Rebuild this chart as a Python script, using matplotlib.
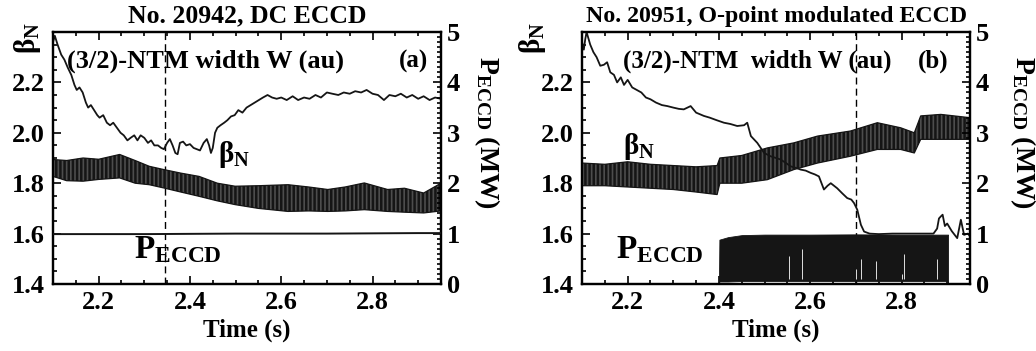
import matplotlib
matplotlib.use("Agg")
import matplotlib.pyplot as plt
from matplotlib.ticker import MultipleLocator

plt.rcParams["font.family"] = ["Liberation Serif", "DejaVu Serif"]
plt.rcParams["font.weight"] = "bold"
plt.rcParams["mathtext.fontset"] = "custom"
plt.rcParams["mathtext.rm"] = "Liberation Serif"
plt.rcParams["mathtext.bf"] = "Liberation Serif:bold"
plt.rcParams["mathtext.it"] = "Liberation Serif:italic"
plt.rcParams["hatch.linewidth"] = 1.8

# ---------------- shot 20942, DC ECCD ----------------
w_a_t = [2.100, 2.104, 2.110, 2.118, 2.125, 2.132, 2.140, 2.147, 2.152, 2.158,
         2.165, 2.172, 2.177, 2.183, 2.190, 2.197, 2.202, 2.210, 2.218, 2.225,
         2.232, 2.240, 2.248, 2.255, 2.263, 2.270, 2.278, 2.285, 2.292, 2.300,
         2.308, 2.315, 2.322, 2.330, 2.337, 2.343, 2.350, 2.356, 2.362, 2.368,
         2.373, 2.378, 2.385, 2.392, 2.400, 2.408, 2.415, 2.422, 2.430, 2.437,
         2.442, 2.446, 2.450, 2.455, 2.460, 2.467, 2.475, 2.482, 2.490, 2.498,
         2.506, 2.515, 2.524, 2.533, 2.542, 2.551, 2.560, 2.570, 2.580, 2.590,
         2.600, 2.612, 2.625, 2.637, 2.650, 2.662, 2.675, 2.687, 2.700, 2.712,
         2.725, 2.737, 2.750, 2.762, 2.775, 2.787, 2.800, 2.812, 2.825, 2.837,
         2.850, 2.862, 2.875, 2.887, 2.900, 2.912, 2.925, 2.937, 2.950]
w_a = [2.36, 2.385, 2.35, 2.31, 2.29, 2.26, 2.23, 2.19, 2.17, 2.18,
       2.16, 2.12, 2.10, 2.11, 2.09, 2.07, 2.06, 2.07, 2.04, 2.03,
       2.04, 2.02, 2.00, 1.99, 1.97, 1.98, 1.99, 1.97, 1.99, 1.98,
       1.96, 1.97, 1.95, 1.95, 1.94, 1.935, 1.96, 1.975, 1.95, 1.92,
       1.915, 1.96, 1.965, 1.95, 1.955, 1.94, 1.935, 1.93, 1.96, 1.975,
       1.95, 1.92, 1.94, 2.00, 2.02, 2.03, 2.04, 2.05, 2.065, 2.07,
       2.09, 2.08, 2.10, 2.11, 2.12, 2.13, 2.14, 2.15, 2.14, 2.135,
       2.14, 2.13, 2.145, 2.13, 2.14, 2.135, 2.15, 2.14, 2.16, 2.155,
       2.15, 2.16, 2.155, 2.165, 2.16, 2.17, 2.155, 2.15, 2.13, 2.15,
       2.145, 2.155, 2.14, 2.15, 2.135, 2.145, 2.13, 2.14, 2.135]

beta_a_t = [2.10, 2.13, 2.166, 2.20, 2.246, 2.28, 2.311, 2.343, 2.38, 2.42, 2.46,
            2.499, 2.55, 2.615, 2.66, 2.702, 2.74, 2.782, 2.833, 2.87, 2.912, 2.95]
beta_a_hi = [1.894, 1.89, 1.90, 1.895, 1.914, 1.89, 1.867, 1.854, 1.84, 1.827, 1.80,
             1.788, 1.79, 1.794, 1.785, 1.775, 1.785, 1.801, 1.775, 1.78, 1.761, 1.80]
beta_a_lo = [1.827, 1.81, 1.808, 1.815, 1.821, 1.80, 1.794, 1.781, 1.765, 1.748, 1.73,
             1.715, 1.70, 1.688, 1.69, 1.688, 1.69, 1.695, 1.688, 1.685, 1.682, 1.69]

p_a_t = [2.10, 2.20, 2.30, 2.40, 2.50, 2.60, 2.70, 2.80, 2.90, 2.95]
p_a = [0.99, 0.99, 0.99, 0.995, 1.0, 1.0, 1.0, 1.005, 1.01, 1.01]

# ---------------- shot 20951, O-point modulated ECCD ----------------
w_b_t = [2.100, 2.104, 2.107, 2.110, 2.118, 2.125, 2.132, 2.140, 2.148, 2.155,
         2.162, 2.170, 2.177, 2.185, 2.192, 2.200, 2.210, 2.220, 2.230, 2.240,
         2.250, 2.262, 2.275, 2.287, 2.300, 2.312, 2.323, 2.338, 2.350, 2.367,
         2.380, 2.395, 2.411, 2.425, 2.440, 2.455, 2.462, 2.470, 2.484, 2.499,
         2.513, 2.525, 2.535, 2.547, 2.557, 2.570, 2.579, 2.590, 2.601, 2.610,
         2.619, 2.630, 2.638, 2.645, 2.652, 2.659, 2.670, 2.681, 2.690, 2.696,
         2.703, 2.711, 2.718, 2.730, 2.750, 2.780, 2.810, 2.840, 2.870, 2.878,
         2.882, 2.886, 2.890, 2.895, 2.900, 2.910, 2.922, 2.930, 2.937, 2.945, 2.950]
w_b = [2.36, 2.33, 2.37, 2.40, 2.35, 2.32, 2.30, 2.266, 2.27, 2.28,
       2.24, 2.23, 2.20, 2.22, 2.19, 2.21, 2.18, 2.17, 2.16, 2.14,
       2.133, 2.12, 2.11, 2.106, 2.10, 2.095, 2.093, 2.106, 2.08, 2.067,
       2.06, 2.05, 2.04, 2.035, 2.027, 2.03, 2.04, 1.987, 1.96, 1.92,
       1.907, 1.90, 1.894, 1.88, 1.867, 1.86, 1.854, 1.85, 1.841, 1.835,
       1.827, 1.775, 1.79, 1.80, 1.79, 1.78, 1.76, 1.741, 1.735, 1.721,
       1.695, 1.635, 1.608, 1.60, 1.598, 1.60, 1.60, 1.60, 1.60, 1.62,
       1.66, 1.668, 1.675, 1.63, 1.64, 1.61, 1.582, 1.655, 1.595, 1.60, 1.59]

beta_b_t = [2.10, 2.15, 2.20, 2.25, 2.30, 2.35, 2.396, 2.402, 2.45, 2.506,
            2.564, 2.616, 2.688, 2.747, 2.798, 2.828, 2.842, 2.886, 2.95]
beta_b_hi = [1.88, 1.875, 1.885, 1.875, 1.87, 1.865, 1.87, 1.90, 1.91, 1.94,
             1.96, 1.987, 2.007, 2.04, 2.02, 2.00, 2.067, 2.073, 2.06]
beta_b_lo = [1.79, 1.79, 1.785, 1.78, 1.775, 1.765, 1.755, 1.80, 1.80, 1.814,
             1.854, 1.88, 1.907, 1.934, 1.934, 1.92, 1.974, 1.974, 1.974]

p_b_t = [2.400, 2.401, 2.420, 2.450, 2.500, 2.600, 2.700, 2.800, 2.900, 2.902]
p_b_hi = [0.0, 0.88, 0.93, 0.97, 0.98, 0.98, 0.985, 0.98, 0.98, 0.98]
p_b_lo = [0.0, 0.05, 0.05, 0.06, 0.06, 0.06, 0.06, 0.06, 0.06, 0.0]
# brief power dropouts inside the modulated train
p_b_drop_t = [2.554, 2.582, 2.701, 2.712, 2.745, 2.800, 2.806, 2.877]
p_b_drop_top = [0.55, 0.7, 0.3, 0.5, 0.45, 0.2, 0.6, 0.5]

panels = [
    dict(title="No. 20942, DC ECCD", tsize=18.5, tag="(a)", left=53 / 1036, dash=2.345,
         w_t=w_a_t, w=w_a, b_t=beta_a_t, b_hi=beta_a_hi, b_lo=beta_a_lo,
         ntm="(3/2)-NTM width W (au)", nsize=19, ntm_x=2.130, beta_xy=(2.462, 1.915),
         pe_xy=(2.277, 1.535), tag_x=2.922, ylab_x=-0.067, rlab_x=1.118),
    dict(title="No. 20951, O-point modulated ECCD", tsize=17.2, tag="(b)", left=582 / 1036,
         dash=2.700, w_t=w_b_t, w=w_b, b_t=beta_b_t, b_hi=beta_b_hi, b_lo=beta_b_lo,
         ntm="(3/2)-NTM  width W (au)", nsize=18, ntm_x=2.190, beta_xy=(2.190, 1.946),
         pe_xy=(2.175, 1.535), tag_x=2.902, ylab_x=-0.127, rlab_x=1.135),
]

fig = plt.figure(figsize=(10.36, 3.51), dpi=100)
ax_w = 388 / 1036
ax_b = (351 - 284) / 351
ax_h = 252 / 351
ink = "#151515"

for i, pn in enumerate(panels):
    ax = fig.add_axes([pn["left"], ax_b, ax_w, ax_h])
    ax2 = ax.twinx()
    ax.set_xlim(2.1, 2.95)
    ax.set_ylim(1.4, 2.4)
    ax2.set_ylim(0, 5)

    ax.axvline(pn["dash"], color="black", lw=1.0, ls=(0, (5, 3)), zorder=1)

    # beta_N: fast sawtooth oscillation shown between its lower and upper envelope
    ax.fill_between(pn["b_t"], pn["b_lo"], pn["b_hi"], facecolor="#4d4d4d",
                    edgecolor=ink, hatch="||||", lw=0, zorder=3)
    ax.plot(pn["b_t"], pn["b_hi"], color=ink, lw=0.9, zorder=3)
    ax.plot(pn["b_t"], pn["b_lo"], color=ink, lw=0.9, zorder=3)
    ax.plot(pn["w_t"], pn["w"], color=ink, lw=1.3, zorder=4)

    if i == 0:
        ax2.plot(p_a_t, p_a, color=ink, lw=1.4, zorder=3)
    else:
        ax2.fill_between(p_b_t, p_b_lo, p_b_hi, color=ink, lw=0.6,
                         edgecolor=ink, zorder=2)
        ax2.vlines(p_b_drop_t, 0.1, p_b_drop_top, color="white", lw=0.6, zorder=3)

    # ticks
    ax.xaxis.set_major_locator(MultipleLocator(0.2))
    ax.xaxis.set_minor_locator(MultipleLocator(0.05))
    ax.yaxis.set_major_locator(MultipleLocator(0.2))
    ax.yaxis.set_minor_locator(MultipleLocator(0.05))
    ax2.yaxis.set_major_locator(MultipleLocator(1))
    ax2.yaxis.set_minor_locator(MultipleLocator(0.1))
    ax.tick_params(which="both", direction="in", top=True, labelsize=19, width=1.2)
    ax.tick_params(which="major", length=6)
    ax.tick_params(which="minor", length=3)
    ax.tick_params(axis="y", pad=6)
    ax.tick_params(axis="x", pad=5)
    ax2.tick_params(which="both", direction="in", labelsize=19, width=1.2, pad=4)
    ax2.tick_params(which="major", length=6)
    ax2.tick_params(which="minor", length=3)
    ax.set_yticks([1.4, 1.6, 1.8, 2.0, 2.2])
    ax.set_yticklabels(["1.4", "1.6", "1.8", "2.0", "2.2"])
    ax.set_xticks([2.2, 2.4, 2.6, 2.8])
    for lab in ax.get_xticklabels() + ax.get_yticklabels() + ax2.get_yticklabels():
        lab.set_fontweight("bold")
    for sp in list(ax.spines.values()) + list(ax2.spines.values()):
        sp.set_linewidth(1.6)

    ax.set_xlabel("Time (s)", fontsize=18, fontweight="bold", labelpad=3)
    ax.set_title(pn["title"], fontsize=pn["tsize"], fontweight="bold", pad=7)

    ax.text(pn["ylab_x"], 0.975, r"$\mathrm{\beta}_\mathrm{N}$", transform=ax.transAxes,
            rotation=90, fontsize=21, ha="center", va="center")
    ax.text(pn["rlab_x"], 0.60, r"$\mathbf{P}_{\mathbf{ECCD}}$ (MW)", transform=ax.transAxes,
            rotation=270, fontsize=20, fontweight="bold", ha="center", va="center")

    ax.text(pn["ntm_x"], 2.284, pn["ntm"], fontsize=pn["nsize"], fontweight="bold",
            ha="left", va="center", zorder=6)
    ax.text(pn["tag_x"], 2.284, pn["tag"], fontsize=18, fontweight="bold",
            ha="right", va="center", zorder=6)
    ax.text(pn["beta_xy"][0], pn["beta_xy"][1], r"$\mathrm{\beta}_\mathrm{N}$",
            fontsize=21, ha="left", va="center", zorder=6)
    ax.text(pn["pe_xy"][0], pn["pe_xy"][1], r"$\mathbf{P}_{\mathbf{ECCD}}$",
            fontsize=24, ha="left", va="center", zorder=6)

fig.savefig("out.png", dpi=100)
